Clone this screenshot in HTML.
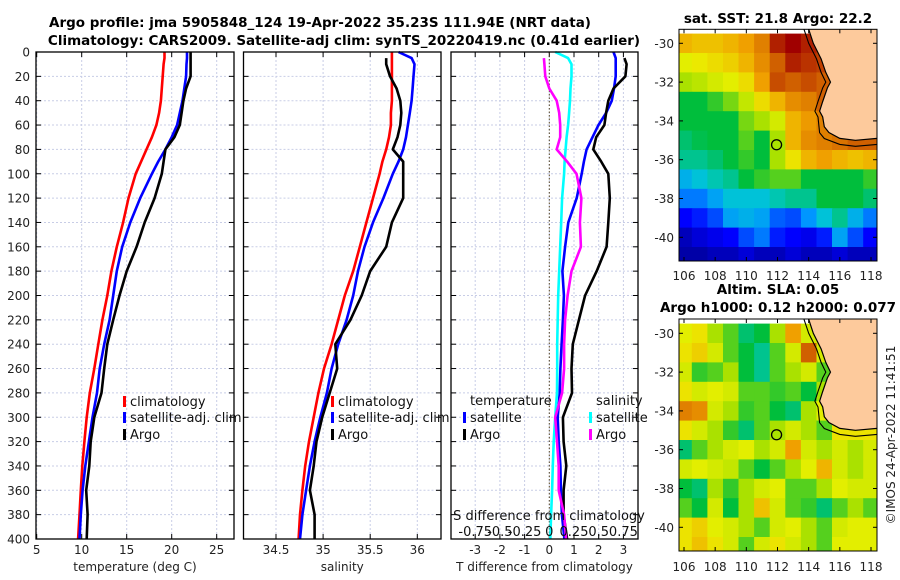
<!DOCTYPE html>
<html><head><meta charset="utf-8"><style>
body{margin:0;background:#fff}
svg{display:block;font-family:"DejaVu Sans","Liberation Sans",sans-serif}
.t{font-size:13.5px;font-weight:bold;fill:#000}
.tk{font-size:12px;fill:#222}
.lg{font-size:13px;fill:#111}
</style></head><body>
<svg id="c" width="900" height="580" viewBox="0 0 900 580" xmlns="http://www.w3.org/2000/svg">
<text class="t" x="320" y="27" text-anchor="middle">Argo profile: jma 5905848_124 19-Apr-2022 35.23S 111.94E (NRT data)</text>
<text class="t" x="344" y="45" text-anchor="middle">Climatology: CARS2009. Satellite-adj clim: synTS_20220419.nc (0.41d earlier)</text>
<text class="t" x="778" y="23" text-anchor="middle">sat. SST: 21.8 Argo: 22.2</text>
<text class="t" x="778" y="294" text-anchor="middle">Altim. SLA: 0.05</text>
<text class="t" x="778" y="312" text-anchor="middle">Argo h1000: 0.12 h2000: 0.077</text>
<text class="tk" transform="translate(895,435) rotate(-90)" text-anchor="middle">©IMOS 24-Apr-2022 11:41:51</text>
<g id="g"></g>
</svg>
<script>
// ---- profile data (depth in m) ----
const depths=[0,5,10,20,30,40,50,60,70,80,90,100,120,140,160,180,200,220,240,260,280,300,320,340,360,380,400];
const tempClim=[19.2,19.2,19.1,19.0,18.9,18.8,18.6,18.3,17.8,17.2,16.6,16.0,15.2,14.6,13.9,13.3,12.85,12.3,11.85,11.4,10.9,10.55,10.3,10.07,9.9,9.75,9.6];
const tempSat=[21.7,21.7,21.65,21.6,21.4,21.2,20.9,20.6,20.0,19.3,18.5,17.8,16.5,15.4,14.5,13.9,13.5,13.1,12.5,12.0,11.7,11.2,10.8,10.4,10.1,9.9,9.75];
const tempArgo=[22.1,22.1,22.1,22.1,21.6,21.3,21.1,20.9,20.3,19.3,19.1,18.9,18.1,17.0,16.1,15.0,14.2,13.5,12.85,12.5,12.2,11.4,11.0,10.85,10.5,10.65,10.55];
const salClim=[35.73,35.73,35.73,35.73,35.73,35.73,35.72,35.72,35.7,35.67,35.63,35.6,35.53,35.46,35.39,35.32,35.23,35.16,35.09,35.01,34.95,34.9,34.85,34.81,34.78,34.755,34.74];
const salSat=[35.8,35.94,35.97,35.96,35.95,35.94,35.92,35.9,35.88,35.85,35.8,35.74,35.64,35.53,35.44,35.37,35.32,35.25,35.16,35.09,35.04,34.97,34.91,34.86,34.82,34.78,34.755];
const salArgo=[null,35.67,35.67,35.71,35.78,35.82,35.83,35.82,35.79,35.74,35.85,35.85,35.85,35.73,35.67,35.5,35.41,35.29,35.13,35.15,35.07,34.99,34.93,34.9,34.86,34.91,34.91];
const dTSat=[2.6,2.69,2.69,2.69,2.62,2.53,2.3,1.99,1.75,1.51,1.4,1.31,1.11,0.77,0.64,0.53,0.59,0.55,0.5,0.45,0.42,0.34,0.38,0.45,0.47,0.51,0.61];
const dTArgo=[null,3.04,3.13,3.08,2.6,2.39,2.3,2.23,1.9,1.78,2.1,2.39,2.45,2.39,2.32,1.92,1.45,1.2,0.95,0.9,0.92,0.55,0.58,0.69,0.58,0.58,0.72];
const dSSat=[0.06,0.19,0.225,0.225,0.215,0.21,0.2,0.19,0.175,0.165,0.155,0.15,0.13,0.12,0.11,0.1,0.09,0.085,0.08,0.08,0.078,0.06,0.045,0.035,0.028,0.018,0.01];
const dSArgo=[null,-0.055,-0.05,-0.04,0.0,0.075,0.1,0.11,0.11,0.075,0.18,0.275,0.325,0.31,0.32,0.225,0.185,0.16,0.15,0.15,0.13,0.06,0.078,0.095,0.095,0.15,0.17];
const depthTicks=[0,20,40,60,80,100,120,140,160,180,200,220,240,260,280,300,320,340,360,380,400];
const tempTicks=[5,10,15,20,25];
const salTicks=[34.5,35,35.5,36];
const dTTicks=[-3,-2,-1,0,1,2,3];
const dSTicks=[-0.75,-0.5,-0.25,0,0.25,0.5,0.75];
// ---- map data (rows lat -30..-41, cols lon 106..118), colour index 0..1 ----
const mapLons=[106,107,108,109,110,111,112,113,114,115,116,117,118];
const mapLats=[-30,-31,-32,-33,-34,-35,-36,-37,-38,-39,-40,-41];
const sstGrid=[
[.72,.70,.70,.72,.75,.80,.95,1.0,.95,.9,.9,.9,.9],
[.62,.64,.66,.68,.72,.78,.85,.95,.92,.9,.9,.9,.9],
[.55,.57,.60,.62,.66,.75,.88,.85,.88,.85,.85,.85,.85],
[.45,.45,.48,.52,.58,.66,.72,.78,.80,.85,.85,.85,.85],
[.45,.45,.45,.45,.52,.55,.60,.72,.76,.80,.85,.85,.85],
[.42,.44,.45,.45,.50,.45,.55,.72,.78,.80,.82,.85,.85],
[.40,.40,.42,.45,.48,.45,.55,.65,.72,.75,.72,.70,.72],
[.32,.35,.38,.40,.45,.48,.50,.50,.45,.45,.45,.45,.48],
[.25,.25,.30,.35,.35,.35,.38,.40,.40,.45,.45,.45,.42],
[.12,.15,.20,.30,.32,.30,.22,.20,.28,.35,.40,.32,.25],
[.05,.08,.10,.12,.20,.25,.15,.12,.10,.15,.30,.20,.12],
[.03,.03,.05,.05,.08,.05,.05,.08,.05,.05,.08,.05,.05]];
const slaGrid=[
[.62,.65,.55,.50,.42,.45,.55,.75,.60,.60,.6,.6,.6],
[.65,.68,.60,.50,.45,.40,.50,.60,.85,.60,.6,.6,.6],
[.60,.48,.50,.55,.45,.40,.50,.55,.60,.50,.6,.6,.6],
[.65,.60,.62,.60,.50,.50,.48,.50,.45,.55,.6,.6,.6],
[.80,.78,.60,.55,.48,.50,.45,.42,.55,.62,.6,.6,.6],
[.65,.60,.55,.48,.42,.50,.55,.60,.55,.50,.65,.65,.65],
[.42,.50,.55,.60,.62,.55,.60,.75,.60,.55,.60,.55,.60],
[.60,.62,.60,.58,.50,.45,.50,.55,.62,.72,.60,.55,.60],
[.45,.42,.55,.48,.55,.60,.62,.50,.50,.55,.62,.60,.60],
[.50,.45,.60,.45,.55,.70,.60,.50,.48,.42,.50,.55,.50],
[.65,.68,.62,.60,.55,.50,.60,.62,.55,.50,.60,.62,.62],
[.65,.70,.65,.60,.50,.60,.65,.60,.55,.50,.62,.62,.62]];
const coastLon=[114.0,114.3,114.8,115.1,115.4,115.2,114.9,114.7,114.9,115.0,115.3,116,117,118.39];
const coastLat=[-29.28,-30,-30.8,-31.5,-32,-32.3,-33,-33.5,-33.8,-34.3,-34.6,-34.9,-35.0,-34.9];
const argoLon=111.94, argoLat=-35.23;
const lonTicks=[106,108,110,112,114,116,118];
const latTicks=[-30,-32,-34,-36,-38,-40];

const NS='http://www.w3.org/2000/svg';
const G=document.getElementById('g');
function mk(tag,at,par){const e=document.createElementNS(NS,tag);for(const k in at)e.setAttribute(k,at[k]);(par||G).appendChild(e);return e;}
const TOP=52,BOT=539;
const yD=d=>TOP+d*(BOT-TOP)/400;
const lin=(d0,d1,r0,r1)=>v=>r0+(v-d0)*(r1-r0)/(d1-d0);
const panels=[
 {x0:36,x1:234,sx:lin(10,25,81.7,216.7),ticks:tempTicks,label:'temperature (deg C)',name:'temperature'},
 {x0:243.5,x1:441,sx:lin(34.5,36,276,417.3),ticks:salTicks,label:'salinity',name:'salinity'},
 {x0:451,x1:638,sx:lin(0,1,549.3,574),ticks:dTTicks,label:'T difference from climatology',name:'difference'}];
panels.forEach((p,i)=>{
 const pg=mk('g',{});
 
 
 p.g=pg;
 p.ticks.forEach(v=>{const x=p.sx(v);
  mk('line',{x1:x,x2:x,y1:TOP,y2:BOT,stroke:'#c8cde6','stroke-width':1,'stroke-dasharray':'2,2'},pg);
  const lt=mk('text',{x:x,y:554,class:'tk','text-anchor':'middle'},pg);lt.textContent=v;
  
  
  mk('line',{x1:x,x2:x,y1:BOT,y2:BOT-5,stroke:'#000'},pg);mk('line',{x1:x,x2:x,y1:TOP,y2:TOP+5,stroke:'#000'},pg);});
 depthTicks.forEach(d=>{const y=yD(d);
  mk('line',{x1:p.x0,x2:p.x1,y1:y,y2:y,stroke:'#c8cde6','stroke-width':1,'stroke-dasharray':'2,2'},pg);
  mk('line',{x1:p.x0,x2:p.x0+5,y1:y,y2:y,stroke:'#000'},pg);mk('line',{x1:p.x1,x2:p.x1-5,y1:y,y2:y,stroke:'#000'},pg);
  if(i===0){const t=mk('text',{x:30,y:y+4.5,class:'tk','text-anchor':'end'},pg);t.textContent=d;
   
   }});
 const xl=mk('text',{x:(p.x0+p.x1)/2,y:571,class:'tk','text-anchor':'middle','font-size':'13px'},pg);xl.textContent=p.label;
 
 
});
mk('line',{x1:549.3,x2:549.3,y1:TOP,y2:BOT,stroke:'#554422','stroke-width':1,'stroke-dasharray':'1.5,2'},panels[2].g);
function line(p,vals,col,name,scale){
 let d='';let m=true;
 vals.forEach((v,i)=>{if(v===null){m=true;return;}const x=p.sx(v*(scale||1)),y=yD(depths[i]);d+=(m?'M':'L')+x.toFixed(1)+','+y.toFixed(1);m=false;});
 const e=mk('path',{d:d,fill:'none',stroke:col,'stroke-width':2.6,'stroke-linejoin':'round'},p.g);
 
 
}
line(panels[0],tempClim,'#ff0000','temp-climatology-line');
line(panels[0],tempSat,'#0000ff','temp-satellite-line');
line(panels[0],tempArgo,'#000','temp-argo-line');
line(panels[1],salClim,'#ff0000','sal-climatology-line');
line(panels[1],salSat,'#0000ff','sal-satellite-line');
line(panels[1],salArgo,'#000','sal-argo-line');
line(panels[2],dTSat,'#0000ff','dt-satellite-line');
line(panels[2],dTArgo,'#000','dt-argo-line');
line(panels[2],dSSat,'#00ffff','ds-satellite-line',4);
line(panels[2],dSArgo,'#ff00ff','ds-argo-line',4);
panels.forEach(p=>{mk('rect',{x:p.x0,y:TOP,width:p.x1-p.x0,height:BOT-TOP,fill:'none',stroke:'#000','stroke-width':1.3},p.g);});
const sTitle=mk('text',{x:549,y:520,class:'lg','text-anchor':'middle'},panels[2].g);sTitle.textContent='S difference from climatology';


dSTicks.forEach(s=>{const t=mk('text',{x:panels[2].sx(s*4),y:536,class:'lg','text-anchor':'middle'},panels[2].g);t.textContent=s;
 
 });
function leg(x,y,col,txt,name){
 const g=mk('g',{});
 
 
 if(col)mk('rect',{x:x,y:y-10,width:3,height:11,fill:col},g);
 const t=mk('text',{x:x+(col?7:0),y:y,class:'lg'},g);t.textContent=txt;
}
leg(123,406,'#ff0000','climatology','legend-climatology');
leg(123,422,'#0000ff','satellite-adj. clim','legend-satellite');
leg(123,439,'#000','Argo','legend-argo');
leg(331,406,'#ff0000','climatology','legend2-climatology');
leg(331,422,'#0000ff','satellite-adj. clim','legend2-satellite');
leg(331,439,'#000','Argo','legend2-argo');
leg(470,405,null,'temperature','legend-temperature-header');
leg(463,422,'#0000ff','satellite','legend-t-satellite');
leg(463,439,'#000','Argo','legend-t-argo');
leg(596,405,null,'salinity','legend-salinity-header');
leg(589,422,'#00ffff','satellite','legend-s-satellite');
leg(589,439,'#ff00ff','Argo','legend-s-argo');
const stops=[[0,[0,0,138]],[.12,[0,0,255]],[.28,[0,150,255]],[.36,[0,200,210]],[.45,[0,190,60]],[.55,[170,225,0]],[.63,[235,240,0]],[.75,[240,160,0]],[.86,[205,90,0]],[1,[160,0,0]]];
function cmap(t){for(let i=1;i<stops.length;i++){if(t<=stops[i][0]){const a=stops[i-1],b=stops[i],f=(t-a[0])/(b[0]-a[0]);return 'rgb('+a[1].map((c,k)=>Math.round(c+(b[1][k]-c)*f)).join(',')+')';}}return 'rgb(160,0,0)';}
const mx0=679,mx1=877,lonX=lin(106,118,684,871);
function drawMap(grid,yTop,yBot,latY,name,lx){
 const mg=mk('g',{});
 
 
 const cid='clip'+name;const cp=mk('clipPath',{id:cid},mg);mk('rect',{x:mx0,y:yTop,width:mx1-mx0,height:yBot-yTop},cp);
 const cg=mk('g',{'clip-path':'url(#'+cid+')'},mg);
 mapLats.forEach((la,r)=>mapLons.forEach((lo,c)=>{
  const x=lonX(lo-0.5),y=latY(la+0.5);
  const e=mk('rect',{x:x.toFixed(1),y:y.toFixed(1),width:(lonX(lo+0.5)-x+0.6).toFixed(1),height:(latY(la-0.5)-y+0.6).toFixed(1),fill:cmap(grid[r][c])},cg);
  
  
 }));
 let pts=coastLon.map((lo,i)=>lonX(lo).toFixed(1)+','+latY(coastLat[i]).toFixed(1));
 const land=mk('polygon',{points:pts.join(' ')+' '+mx1+','+yTop,fill:'#fdca9c',stroke:'none'},cg);
 
 
 mk('polyline',{points:pts.join(' '),fill:'none',stroke:'#000','stroke-width':1.2},cg);
 let off=coastLon.map((lo,i)=>lonX(lo-0.3*(i<11?1:0)).toFixed(1)+','+(latY(coastLat[i])+(i>=9?6:0)).toFixed(1));
 mk('polyline',{points:off.join(' '),fill:'none',stroke:'#000','stroke-width':1.1},cg);
 const ac=mk('circle',{cx:lonX(argoLon),cy:latY(argoLat),r:5,fill:'none',stroke:'#000','stroke-width':1.3},mg);
 
 
 mk('rect',{x:mx0,y:yTop,width:mx1-mx0,height:yBot-yTop,fill:'none',stroke:'#000','stroke-width':1},mg);
 lonTicks.forEach(lo=>{const x=lonX(lo);mk('line',{x1:x,x2:x,y1:yTop,y2:yTop+4,stroke:'#000'},mg);mk('line',{x1:x,x2:x,y1:yBot,y2:yBot-4,stroke:'#000'},mg);
  const t=mk('text',{x:x,y:lx,class:'tk','text-anchor':'middle'},mg);t.textContent=lo;
  
  });
 latTicks.forEach(la=>{const y=latY(la);mk('line',{x1:mx0,x2:mx0+4,y1:y,y2:y,stroke:'#000'},mg);mk('line',{x1:mx1,x2:mx1-4,y1:y,y2:y,stroke:'#000'},mg);
  const t=mk('text',{x:674,y:y+4.5,class:'tk','text-anchor':'end'},mg);t.textContent=la;
  
  });
}
drawMap(sstGrid,29.3,261,la=>43.3+(-30-la)*19.4,'sst-map',280);
drawMap(slaGrid,319,551,la=>333.3+(-30-la)*19.4,'sla-map',571);
</script>
</body></html>
